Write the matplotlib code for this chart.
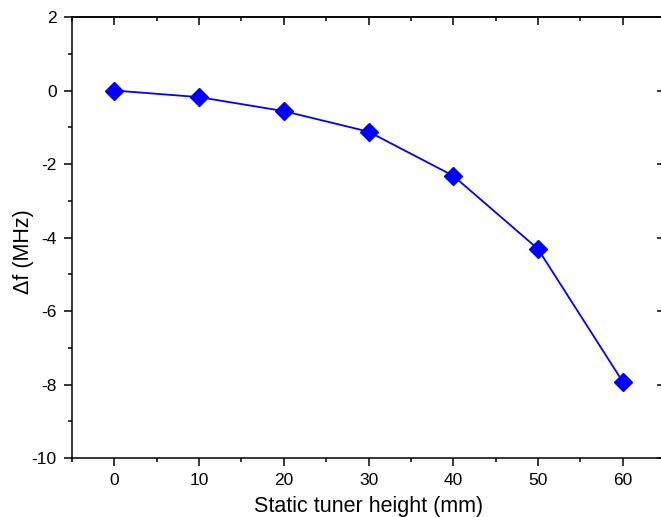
import matplotlib
matplotlib.use("Agg")
import matplotlib.pyplot as plt
from matplotlib.ticker import MultipleLocator

plt.rcParams['font.family'] = ['Liberation Sans', 'DejaVu Sans']
plt.rcParams['axes.unicode_minus'] = False

heights = [0, 10, 20, 30, 40, 50, 60]
delta_f = [0.0, -0.18, -0.56, -1.12, -2.32, -4.31, -7.92]

fig = plt.figure(figsize=(6.61, 5.17), dpi=100)
ax = fig.add_axes([72/661, 1-458/517, (665-72)/661, (458-17)/517])

ax.plot(heights, delta_f, color='#0000ff', lw=1.3, marker='D', markersize=9.5,
        markerfacecolor='#0000ff', markeredgecolor='#0000ff')

ax.set_xlim(-5, 65)
ax.set_ylim(-10, 2)
ax.xaxis.set_major_locator(MultipleLocator(10))
ax.xaxis.set_minor_locator(MultipleLocator(5))
ax.yaxis.set_major_locator(MultipleLocator(2))
ax.yaxis.set_minor_locator(MultipleLocator(1))

for s in ax.spines.values():
    s.set_linewidth(1.1)

ax.tick_params(which='both', bottom=True, left=True, top=False, right=False,
               direction='out', width=1.1, labelsize=12.5)
ax.tick_params(which='major', length=6, pad=5)
ax.tick_params(which='minor', length=3)

axt = ax.secondary_xaxis('top')
axt.xaxis.set_major_locator(MultipleLocator(10))
axt.xaxis.set_minor_locator(MultipleLocator(5))
axt.tick_params(which='both', direction='in', width=1.1, labeltop=False)
axt.tick_params(which='major', length=6)
axt.tick_params(which='minor', length=3)
axt.spines['top'].set_linewidth(1.1)
axr = ax.secondary_yaxis('right')
axr.yaxis.set_major_locator(MultipleLocator(2))
axr.yaxis.set_minor_locator(MultipleLocator(1))
axr.tick_params(which='both', direction='in', width=1.1, labelright=False)
axr.tick_params(which='major', length=6)
axr.tick_params(which='minor', length=3)
axr.spines['right'].set_linewidth(1.1)

ax.set_xlabel('Static tuner height (mm)', fontsize=15.5, labelpad=5.5)
ax.set_ylabel('Δf (MHz)', fontsize=15.5)
ax.yaxis.set_label_coords((34 - 72) / 593, (458 - 252) / 441)

fig.savefig('out.png', dpi=100)
